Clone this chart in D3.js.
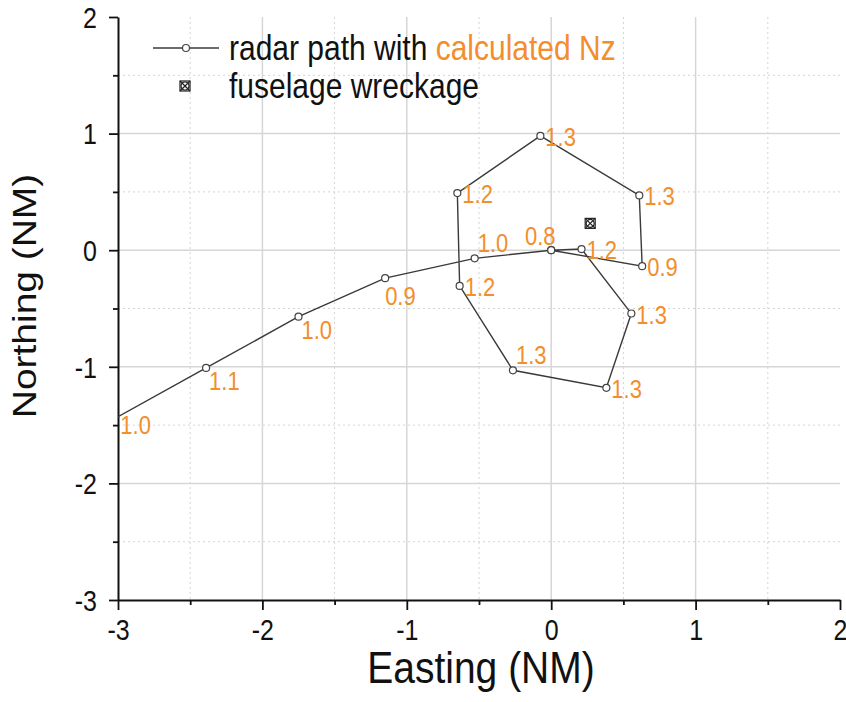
<!DOCTYPE html>
<html>
<head>
<meta charset="utf-8">
<script src="https://cdn.jsdelivr.net/npm/d3@7"></script>
<style>
body { margin: 0; background: #fff; }
text { font-family: "Liberation Sans", Arial, sans-serif; }
</style>
</head>
<body>
<div id="chart"></div>
<script>
// radar path points (NM) and the Nz value shown next to each one
const easting  = [-3.06, -2.39, -1.75, -1.15, -0.53, 0.0, 0.63, 0.61, -0.075, -0.65, -0.634, -0.265, 0.382, 0.555, 0.21, 0.0]
const northing = [-1.47, -1.01, -0.57, -0.24, -0.07, 0.0, -0.137, 0.47, 0.98, 0.49, -0.306, -1.03, -1.18, -0.543, 0.01, 0.0]
const nzLabels = ["1.0", "1.1", "1.0", "0.9", "1.0", "0.8", "0.9", "1.3", "1.3", "1.2", "1.2", "1.3", "1.3", "1.3", "1.2", ""]
// where each label sits relative to its point
const labelSide = ["start", "br", "br", "b", "ar", "al", "r", "r", "r", "r", "r", "ar", "r", "r", "r", ""]

const wreckEasting = [0.27]
const wreckNorthing = [0.23]

const xTicks = [-3, -2, -1, 0, 1, 2]
const yTicks = [-3, -2, -1, 0, 1, 2]
const minorTicks = [-2.5, -1.5, -0.5, 0.5, 1.5]
const gridMajor = [-2, -1, 0, 1]

const svgWidth = 846
const svgHeight = 702
const margin = { top: 17, right: 6, bottom: 102, left: 118 }
const width = svgWidth - margin.left - margin.right
const height = svgHeight - margin.top - margin.bottom

const orange = "#f28e2b"
const S = 1.18   // the reference text is a bit taller than wide

const sideOffsets = {
  start: [11, 3, "start"],
  br: [3, 13, "start"],
  b: [0, 18, "start"],
  ar: [3, -15, "start"],
  al: [-11, -14, "middle"],
  r: [5, 1, "start"]
}

const svg = d3.select("#chart").append("svg")
  .attr("width", svgWidth)
  .attr("height", svgHeight)

const g = svg.append("g")
  .attr("transform", "translate(" + margin.left + "," + margin.top + ")")

const x = d3.scaleLinear().domain([-3, 2]).range([0, width])
const y = d3.scaleLinear().domain([-3, 2]).range([height, 0])

// grid
g.append("g").selectAll("line.vmaj").data(gridMajor).enter().append("line")
  .attr("x1", d => x(d)).attr("x2", d => x(d))
  .attr("y1", 0).attr("y2", height)
  .attr("stroke", "#d6d6d6").attr("stroke-width", 1.5)
g.append("g").selectAll("line.hmaj").data(gridMajor).enter().append("line")
  .attr("y1", d => y(d)).attr("y2", d => y(d))
  .attr("x1", 0).attr("x2", width)
  .attr("stroke", "#d6d6d6").attr("stroke-width", 1.5)
g.append("g").selectAll("line.vmin").data(minorTicks).enter().append("line")
  .attr("x1", d => x(d)).attr("x2", d => x(d))
  .attr("y1", 0).attr("y2", height)
  .attr("stroke", "#d4d4d4").attr("stroke-width", 1).attr("stroke-dasharray", "2,3")
g.append("g").selectAll("line.hmin").data(minorTicks).enter().append("line")
  .attr("y1", d => y(d)).attr("y2", d => y(d))
  .attr("x1", 0).attr("x2", width)
  .attr("stroke", "#d4d4d4").attr("stroke-width", 1).attr("stroke-dasharray", "2,3")

// axes
const xAxis = g.append("g")
  .attr("transform", "translate(0," + height + ")")
  .call(d3.axisBottom(x).tickValues(xTicks).tickSize(10).tickSizeOuter(0).tickFormat(d => String(d)))
g.append("g")
  .attr("transform", "translate(0," + height + ")")
  .call(d3.axisBottom(x).tickValues(minorTicks).tickSize(5).tickSizeOuter(0).tickFormat(""))
  .select(".domain").remove()

const yAxis = g.append("g")
  .call(d3.axisLeft(y).tickValues(yTicks).tickSize(9).tickSizeOuter(0).tickFormat(d => String(d)))
g.append("g")
  .call(d3.axisLeft(y).tickValues(minorTicks).tickSize(5).tickSizeOuter(0).tickFormat(""))
  .select(".domain").remove()

g.selectAll(".domain").attr("stroke", "#111").attr("stroke-width", 2)
g.selectAll(".tick line").attr("stroke", "#111").attr("stroke-width", 1.8)

xAxis.selectAll("text")
  .attr("y", null).attr("dy", "0.71em")
  .attr("transform", "translate(0,19) scale(1," + S + ")")
  .attr("font-size", 25).attr("fill", "#111")
  .style("font-family", '"Liberation Sans", Arial, sans-serif')
yAxis.selectAll("text")
  .attr("x", null).attr("dy", "0.35em")
  .attr("transform", "translate(-21,0) scale(1," + S + ")")
  .attr("font-size", 25).attr("fill", "#111")
  .style("font-family", '"Liberation Sans", Arial, sans-serif')

// axis titles
svg.append("text")
  .attr("transform", "translate(" + (margin.left + width / 2 + 2) + ",683) scale(1,1.12)")
  .attr("text-anchor", "middle")
  .attr("font-size", 39)
  .attr("fill", "#111")
  .text("Easting (NM)")
svg.append("text")
  .attr("transform", "translate(36,296) scale(1," + S + ") rotate(-90)")
  .attr("text-anchor", "middle")
  .attr("font-size", 33)
  .attr("fill", "#111")
  .text("Northing (NM)")

// radar path
const points = easting.map((e, i) => ({ e: e, n: northing[i], nz: nzLabels[i], side: labelSide[i] }))

g.append("clipPath").attr("id", "plot-clip")
  .append("rect").attr("width", width).attr("height", height)

const plot = g.append("g").attr("clip-path", "url(#plot-clip)")

const line = d3.line().x(d => x(d.e)).y(d => y(d.n))
plot.append("path")
  .datum(points)
  .attr("d", line)
  .attr("fill", "none")
  .attr("stroke", "#3a3a3a")
  .attr("stroke-width", 1.4)

plot.selectAll("circle.pt").data(points).enter().append("circle")
  .attr("cx", d => x(d.e))
  .attr("cy", d => y(d.n))
  .attr("r", 3.5)
  .attr("fill", "#fff")
  .attr("stroke", "#444")
  .attr("stroke-width", 1.2)

g.selectAll("text.nz").data(points.filter(d => d.nz)).enter().append("text")
  .attr("class", "nz")
  .attr("transform", d => {
    const o = sideOffsets[d.side]
    return "translate(" + (x(d.e) + o[0]) + "," + (y(d.n) + o[1]) + ") scale(1," + S + ")"
  })
  .attr("dy", "0.35em")
  .attr("text-anchor", d => sideOffsets[d.side][2])
  .attr("font-size", 22)
  .attr("fill", orange)
  .text(d => d.nz)

// fuselage wreckage symbol: box with cross and circle
function drawWreck(parent, cx, cy) {
  const s = 5
  const w = parent.append("g").attr("transform", "translate(" + cx + "," + cy + ")")
    .attr("fill", "none").attr("stroke", "#222").attr("stroke-width", 1.2)
  w.append("rect").attr("x", -s).attr("y", -s).attr("width", 2 * s).attr("height", 2 * s)
  w.append("line").attr("x1", -s).attr("y1", -s).attr("x2", s).attr("y2", s)
  w.append("line").attr("x1", -s).attr("y1", s).attr("x2", s).attr("y2", -s)
  w.append("circle").attr("r", s * 0.8)
}
wreckEasting.forEach((e, i) => drawWreck(g, x(e), y(wreckNorthing[i])))

// legend
const legend = svg.append("g")
legend.append("line")
  .attr("x1", 153).attr("x2", 219).attr("y1", 48).attr("y2", 48)
  .attr("stroke", "#3a3a3a").attr("stroke-width", 1.4)
legend.append("circle")
  .attr("cx", 186).attr("cy", 48).attr("r", 3.5)
  .attr("fill", "#fff").attr("stroke", "#444").attr("stroke-width", 1.2)
const lt = legend.append("text")
  .attr("transform", "translate(229,48) scale(1," + S + ")")
  .attr("dy", "0.35em")
  .attr("font-size", 30)
  .attr("fill", "#111")
lt.append("tspan").text("radar path with ")
lt.append("tspan").attr("fill", orange).text("calculated Nz")

drawWreck(legend, 185, 86)
legend.append("text")
  .attr("transform", "translate(229,86) scale(1," + S + ")")
  .attr("dy", "0.35em")
  .attr("font-size", 30)
  .attr("fill", "#111")
  .text("fuselage wreckage")
</script>
</body>
</html>
